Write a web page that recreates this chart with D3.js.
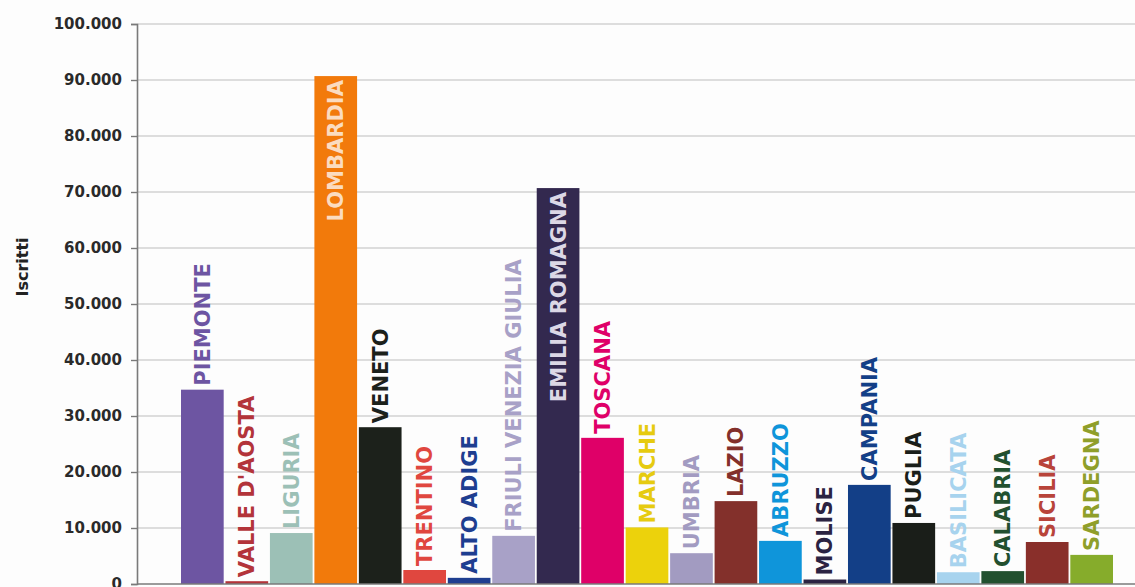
<!DOCTYPE html>
<html>
<head>
<meta charset="utf-8">
<script src="https://cdn.jsdelivr.net/npm/d3@7"></script>
<style>
  html, body { margin: 0; padding: 0; background: #fdfdfd; }
  svg { display: block; }
</style>
</head>
<body>
<svg id="chart" width="1135" height="587"></svg>
<script>
// ---- data ----
const regions = ["PIEMONTE","VALLE D'AOSTA","LIGURIA","LOMBARDIA","VENETO","TRENTINO","ALTO ADIGE",
  "FRIULI VENEZIA GIULIA","EMILIA ROMAGNA","TOSCANA","MARCHE","UMBRIA","LAZIO","ABRUZZO","MOLISE",
  "CAMPANIA","PUGLIA","BASILICATA","CALABRIA","SICILIA","SARDEGNA"];
const iscritti = [34700, 500, 9100, 90700, 28000, 2500, 1100, 8600, 70700, 26100, 10100, 5500,
  14800, 7700, 800, 17700, 10900, 2100, 2300, 7500, 5200];
const barColors = ["#6d55a2","#b3343a","#9cc0b6","#f27a0b","#1c211b","#e0473f","#1e3e90",
  "#a8a1c7","#33294f","#df0068","#ecd20c","#a29bc1","#83302b","#0f95da","#2b2342",
  "#133f87","#1a1e19","#a7d3ee","#22502f","#892f2a","#86ac2b"];
const labelColors = ["#6d55a2","#b3343a","#9cc0b6","#fbdcc0","#1c211b","#e0473f","#1e3e90",
  "#a8a1c7","#dcd8e6","#df0068","#e6cb10","#a29bc1","#83302b","#0f95da","#2b2342",
  "#133f87","#1a1e19","#a7d3ee","#22502f","#b8443a","#8f9f2a"];
const insideLabel = ["LOMBARDIA","EMILIA ROMAGNA"];
const yTicks = [0,10000,20000,30000,40000,50000,60000,70000,80000,90000,100000];
const yTitle = "Iscritti";

// ---- layout ----
const svg = d3.select("#chart");
const axisX = 137, plotTop = 24, plotBottom = 584, plotRight = 1135;

const y = d3.scaleLinear().domain([0, 100000]).range([plotBottom, plotTop]);
const x = d3.scaleBand().domain(regions).range([181, 1113]).paddingInner(0.04).paddingOuter(0);

const fmt = d => d3.format(",")(d).replace(/,/g, ".");

// gridlines
svg.append("g").selectAll("line").data(yTicks.filter(d => d > 0)).join("line")
  .attr("x1", axisX).attr("x2", plotRight)
  .attr("y1", d => y(d)).attr("y2", d => y(d))
  .attr("stroke", "#d2d2d2").attr("stroke-width", 1.6);

// y axis
const yAxis = d3.axisLeft(y).tickValues(yTicks).tickFormat(fmt).tickSize(6).tickPadding(9);
const gy = svg.append("g").attr("transform", `translate(${axisX},0)`).call(yAxis);
gy.select(".domain").attr("stroke", "#7a7a7a").attr("stroke-width", 1.6);
gy.selectAll(".tick line").attr("stroke", "#7a7a7a").attr("stroke-width", 1.4);
gy.selectAll(".tick text")
  .attr("font-family", "DejaVu Sans, Verdana, sans-serif")
  .attr("font-size", 15).attr("font-weight", "bold").attr("fill", "#2a2a2a");

// bars
svg.append("g").selectAll("rect").data(regions).join("rect")
  .attr("x", d => x(d))
  .attr("width", x.bandwidth())
  .attr("y", (d, i) => y(iscritti[i]))
  .attr("height", (d, i) => plotBottom - y(iscritti[i]))
  .attr("fill", (d, i) => barColors[i]);

// x axis line
svg.append("line").attr("x1", axisX).attr("x2", plotRight).attr("y1", plotBottom).attr("y2", plotBottom)
  .attr("stroke", "#7a7a7a").attr("stroke-width", 1.6);

// bar labels
svg.append("g").selectAll("text").data(regions).join("text")
  .attr("transform", (d, i) => {
    const cx = x(d) + x.bandwidth() / 2;
    const inside = insideLabel.includes(d);
    const yy = inside ? y(iscritti[i]) + 4 : y(iscritti[i]) - 4;
    return `translate(${cx},${yy}) rotate(-90)`;
  })
  .attr("text-anchor", d => insideLabel.includes(d) ? "end" : "start")
  .attr("dy", "0.36em")
  .attr("font-family", "DejaVu Sans, Verdana, sans-serif")
  .attr("font-size", 21).attr("font-weight", "bold")
  .attr("fill", (d, i) => labelColors[i])
  .text(d => d);

// y title
svg.append("text")
  .attr("transform", `translate(22,267) rotate(-90)`)
  .attr("text-anchor", "middle").attr("dy", "0.36em")
  .attr("font-family", "DejaVu Sans, Verdana, sans-serif")
  .attr("font-size", 16).attr("font-weight", "bold").attr("fill", "#222")
  .text(yTitle);
</script>
</body>
</html>
